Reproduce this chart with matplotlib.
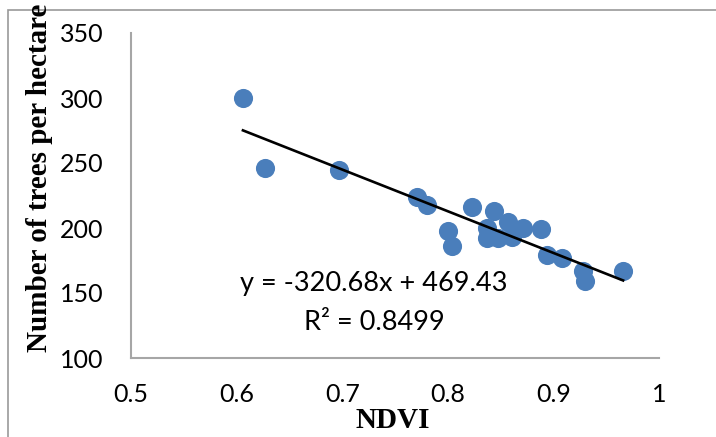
import matplotlib
matplotlib.use("Agg")
import matplotlib.pyplot as plt
import numpy as np
from matplotlib.patches import Rectangle

# NDVI vs number of trees per hectare
ndvi = [0.606, 0.627, 0.697, 0.771, 0.780, 0.800, 0.804, 0.823, 0.844, 0.837,
        0.837, 0.848, 0.857, 0.861, 0.871, 0.888, 0.894, 0.908, 0.928, 0.930, 0.966]
trees = [300, 246, 245, 224, 218, 198, 186, 216, 213, 200,
         192, 192, 205, 193, 200, 199, 179, 177, 167, 159, 167]

slope = -320.68
intercept = 469.43
r2 = 0.8499

x_ticks = [0.5, 0.6, 0.7, 0.8, 0.9, 1.0]
x_tick_labels = ["0.5", "0.6", "0.7", "0.8", "0.9", "1"]
y_ticks = [100, 150, 200, 250, 300, 350]

plt.rcParams['font.family'] = ['Lato', 'DejaVu Sans']

fig = plt.figure(figsize=(7.16, 4.37), dpi=100)
ax = fig.add_axes([131/716, 1 - 358/437, (659 - 131)/716, (358 - 33)/437])

ax.scatter(ndvi, trees, s=190, color="#4A7EBB", zorder=2, linewidths=0)

xs = np.array([min(ndvi), max(ndvi)])
ax.plot(xs, slope*xs + intercept, color="black", lw=1.9, zorder=3)

ax.set_xlim(0.5, 1.0)
ax.set_ylim(100, 350)
ax.set_xticks(x_ticks)
ax.set_xticklabels(x_tick_labels)
ax.set_yticks(y_ticks)
ax.tick_params(length=0, labelsize=18, pad=18, colors="black")
ax.tick_params(axis='y', pad=20)

for side in ["top", "right"]:
    ax.spines[side].set_visible(False)
for side in ["left", "bottom"]:
    ax.spines[side].set_color("#A6A6A6")
    ax.spines[side].set_linewidth(1.5)

fig.text(374/716, 1 - 283/437, "y = -320.68x + 469.43", ha="center", va="center", fontsize=19.5)
fig.text(374/716, 1 - 323/437, "R² = 0.8499", ha="center", va="center", fontsize=19.5)

fig.text(393/716, 1 - 420/437, "NDVI", ha="center", va="center", fontsize=21,
         fontweight="bold", family="Liberation Serif")
fig.text(40/716, 1 - 178/437, "Number of trees per hectare", ha="center", va="center",
         rotation=90, fontsize=21, fontweight="bold", family="Liberation Serif")

# outer chart frame (only left and top visible)
fig.patches.append(Rectangle((8/716, -0.1), 1.2, 1 - 10/437 + 0.1, transform=fig.transFigure,
                             fill=False, edgecolor="#999999", lw=1.2))

fig.savefig("out.png", dpi=100)
